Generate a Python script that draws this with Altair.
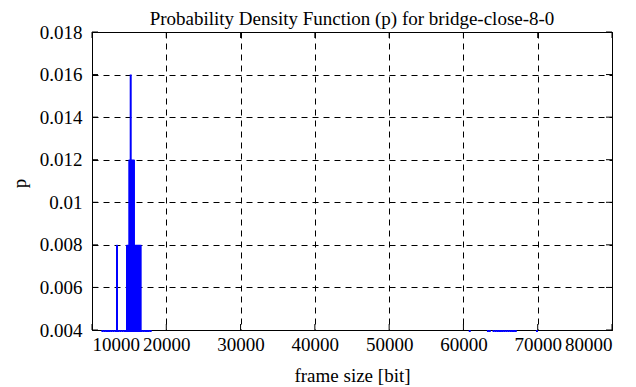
import altair as alt
import pandas as pd

# impulses: frame size [bit] and probability p
frame_sizes = [
    # p = 0.016
    15210,
    # p = 0.012
    15020, 15150, 15280, 15400, 15520, 15650,
    # p = 0.008
    13365, 14710, 14840, 14970, 15780, 15900, 16030, 16160, 16290, 16420, 16550,
    # p = 0.004
    11400, 11650, 11900, 12150, 12400, 12650, 12900, 13150, 13600, 13850, 14100,
    14350, 14580, 16680, 16900, 17150, 17400, 17650, 17900,
    60850, 63300, 63550, 64050, 64300, 64550, 64800, 65050, 65300, 65550, 65800,
    66050, 66300, 66550, 66800, 67050, 69900,
]
probabilities = (
    [0.016]
    + [0.012] * 6
    + [0.008] * 11
    + [0.004] * 19
    + [0.004] * 17
)

x_ticks = [10000, 20000, 30000, 40000, 50000, 60000, 70000, 80000]
y_ticks = [0.004, 0.006, 0.008, 0.010, 0.012, 0.014, 0.016, 0.018]
title_text = "Probability Density Function (p) for bridge-close-8-0"

W, H = 520, 298
FONT = "Liberation Serif"
FS = 19

df = pd.DataFrame({"frame_size": frame_sizes, "p": probabilities})
xt = pd.DataFrame({"frame_size": x_ticks})
yt = pd.DataFrame({"p": y_ticks})

x_scale = alt.Scale(domain=[10000, 80000], nice=False, zero=False)
y_scale = alt.Scale(domain=[0.004, 0.018], nice=False, zero=False)

x_axis = alt.Axis(
    values=x_ticks, format="d", grid=True, gridColor="black", gridDash=[6, 5],
    gridOpacity=1, gridWidth=1, ticks=False, domain=False,
    labelFont=FONT, labelFontSize=FS, labelColor="black", labelPadding=5,
    title="frame size [bit]", titleFont=FONT, titleFontSize=FS,
    titleFontWeight="normal", titleColor="black", titleY=45,
    titleBaseline="middle",
)
y_axis = alt.Axis(
    values=y_ticks, labelExpr="format(datum.value, '.3~f')", grid=True,
    gridColor="black", gridDash=[6, 5], gridOpacity=1, gridWidth=1,
    ticks=False, domain=False,
    labelFont=FONT, labelFontSize=FS, labelColor="black", labelPadding=10,
    title="p", titleFont=FONT, titleFontSize=FS, titleFontWeight="normal",
    titleColor="black", titleX=-67, titleY=151, titleAngle=270,
    titleAlign="center", titleBaseline="alphabetic",
)

X = alt.X("frame_size:Q", scale=x_scale, axis=x_axis)
Y = alt.Y("p:Q", scale=y_scale, axis=y_axis)

tick_len = 6
x_ticks_bottom = alt.Chart(xt).mark_rule(color="black", strokeWidth=1).encode(
    x=X, y=alt.value(H - tick_len), y2=alt.value(H)
)
x_ticks_top = alt.Chart(xt).mark_rule(color="black", strokeWidth=1).encode(
    x=X, y=alt.value(0), y2=alt.value(tick_len)
)
y_ticks_left = alt.Chart(yt).mark_rule(color="black", strokeWidth=1).encode(
    y=Y, x=alt.value(0), x2=alt.value(tick_len)
)
y_ticks_right = alt.Chart(yt).mark_rule(color="black", strokeWidth=1).encode(
    y=Y, x=alt.value(W - tick_len), x2=alt.value(W)
)

impulses = alt.Chart(df).mark_rule(color="#0000ff", strokeWidth=2, strokeCap="butt").encode(
    x=X, y=Y, y2=alt.value(H + 2)
)

title_mark = alt.Chart(pd.DataFrame({"t": [title_text]})).mark_text(
    font=FONT, fontSize=FS, color="black", align="center", baseline="alphabetic"
).encode(x=alt.value(W / 2), y=alt.value(-7), text="t:N")

chart = (
    alt.layer(x_ticks_bottom, x_ticks_top, y_ticks_left, y_ticks_right, impulses, title_mark)
    .properties(
        width=W,
        height=H,
        autosize="none",
        padding={"left": 84, "top": 24, "right": 14, "bottom": 55},
        background="white",
    )
    .configure_view(stroke="black", strokeWidth=1)
)

chart.save("out.html", embed_options={"renderer": "svg", "actions": False})
